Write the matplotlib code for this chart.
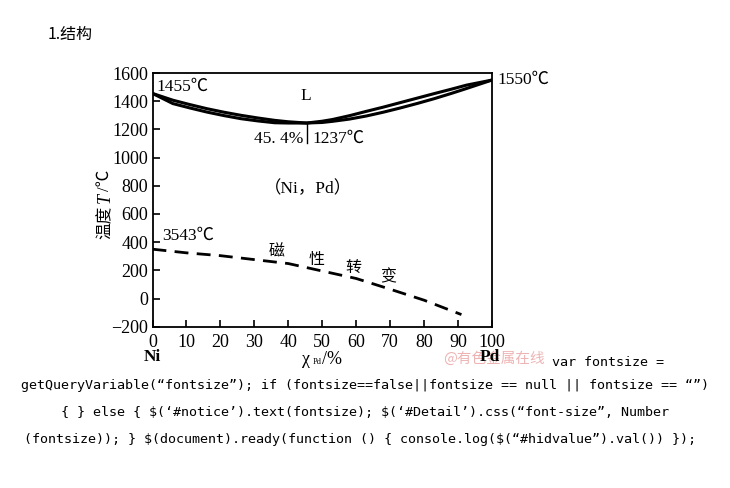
import numpy as np
import matplotlib
matplotlib.use("Agg")
from matplotlib import pyplot as plt

# liquidus / solidus of Ni-Pd
comp = [0, 6, 11, 16, 21, 26, 31, 36, 40, 45.4, 50, 53, 58, 63, 68, 73, 78, 83, 88, 92.5, 100]
liquidus = [1455, 1407, 1376, 1347, 1322, 1300, 1281, 1264, 1254, 1245, 1258, 1270,
            1297, 1328, 1358, 1390, 1422, 1454, 1485, 1514, 1550]
solidus = [1455, 1383, 1352, 1323, 1298, 1276, 1260, 1247, 1245, 1245, 1249, 1257,
           1273, 1295, 1322, 1352, 1384, 1418, 1455, 1490, 1550]

# magnetic transition (dashed)
mag_comp = [0, 10, 20, 30, 40, 50, 60, 70, 80, 91]
mag_temp = [350, 324, 304, 276, 248, 195, 142, 66, -12, -114]

min_comp = 45.4
min_line = [1245, 1100]

xticks = list(range(0, 101, 10))
yticks = list(range(-200, 1601, 200))

js_lines = [
    "getQueryVariable(\u201cfontsize\u201d); if (fontsize==false||fontsize == null || fontsize == \u201c\u201d)",
    "{ } else { $(\u2018#notice\u2019).text(fontsize); $(\u2018#Detail\u2019).css(\u201cfont-size\u201d, Number",
    "(fontsize)); } $(document).ready(function () { console.log($(\u201c#hidvalue\u201d).val()) });",
]

serif = ["Liberation Serif", "Noto Sans CJK SC", "DejaVu Sans"]
cjk = ["Noto Sans CJK SC", "DejaVu Sans"]
mono = ["DejaVu Sans Mono", "Noto Sans CJK SC"]

W, H = 730, 488
fig = plt.figure(figsize=(W / 100, H / 100), dpi=100)


def fx(px):
    return px / W


def fy(py):
    return 1 - py / H


ax = fig.add_axes([fx(152.5), fy(326.7), (492 - 152.5) / W, (326.7 - 73) / H])
ax.plot(comp, liquidus, color="black", lw=2.2, solid_capstyle="round")
ax.plot(comp, solidus, color="black", lw=2.2, solid_capstyle="round")
ax.plot([min_comp, min_comp], min_line, color="black", lw=1.0)
ax.plot(mag_comp, mag_temp, color="black", lw=2.0, dashes=(5, 3))

ax.set_xlim(0, 100)
ax.set_ylim(-200, 1600)
ax.set_xticks(xticks)
ax.set_yticks(yticks)
ax.set_yticklabels(["\u2212200" if v < 0 else str(v) for v in yticks])
ax.tick_params(direction="in", length=5, width=1.2, labelsize=13, pad=3)
ax.tick_params(axis="x", pad=5)
for lab in ax.get_xticklabels() + ax.get_yticklabels():
    lab.set_family(serif)
for s in ax.spines.values():
    s.set_linewidth(1.3)

fs = 12.5
ax.text(1.3, 1503, "1455\u2103", family=serif, fontsize=fs, va="center", ha="left")
ax.text(45.2, 1437, "L", family=serif, fontsize=fs, va="center", ha="center")
ax.text(44.3, 1132, "45. 4%", family=serif, fontsize=fs, va="center", ha="right")
ax.text(47, 1132, "1237\u2103", family=serif, fontsize=fs, va="center", ha="left")
ax.text(101.6, 1550, "1550\u2103", family=serif, fontsize=fs, va="center", ha="left", clip_on=False)
ax.text(45.8, 777, "\uff08Ni\uff0cPd\uff09", family=serif, fontsize=fs, va="center", ha="center")
ax.text(2.8, 444, "3543\u2103", family=serif, fontsize=fs, va="center", ha="left")
for ch, cx, cy in [("磁", 36.7, 331), ("性", 48.2, 274), ("转", 59.1, 217), ("变", 69.4, 153)]:
    ax.text(cx, cy, ch, family=cjk, fontsize=11.5, va="center", ha="center")

# y label in pieces: 温度 / italic T / "/℃"
fig.text(fx(105), fy(222), "温度", family=cjk, fontsize=12, rotation=90, va="center", ha="center")
fig.text(fx(105), fy(198), "T", family="Liberation Serif", style="italic", fontsize=13,
         rotation=90, va="center", ha="center")
fig.text(fx(105), fy(180), "/\u2103", family=serif, fontsize=12, rotation=90,
         va="center", ha="center")

fig.text(fx(152), fy(357), "Ni", family=serif, fontsize=12.5, weight="bold", va="center", ha="center")
fig.text(fx(494), fy(359), "@有色金属在线", family=cjk, fontsize=10.5, color="#eeb4b4",
         va="center", ha="center")
fig.text(fx(490), fy(357), "Pd", family=serif, fontsize=12.5, weight="bold", va="center", ha="center")
fig.text(fx(302), fy(360), "\u03c7", family=serif, fontsize=13, va="center", ha="left")
fig.text(fx(313), fy(362), "Pd", family=serif, fontsize=6, va="center", ha="left")
fig.text(fx(322), fy(360), "/%", family=serif, fontsize=13, va="center", ha="left")

fig.text(fx(48), fy(34), "1.结构", family=cjk, fontsize=11.5, va="center", ha="left")

fig.text(fx(552), fy(363), "var fontsize =", family=mono, fontsize=9.6, va="center", ha="left")
fig.text(fx(365), fy(385), js_lines[0], family=mono, fontsize=9.6, va="center", ha="center",
         parse_math=False)
fig.text(fx(365), fy(412), js_lines[1], family=mono, fontsize=9.6, va="center", ha="center",
         parse_math=False)
fig.text(fx(360), fy(439), js_lines[2], family=mono, fontsize=9.6, va="center", ha="center",
         parse_math=False)

fig.savefig("out.png", dpi=100)
